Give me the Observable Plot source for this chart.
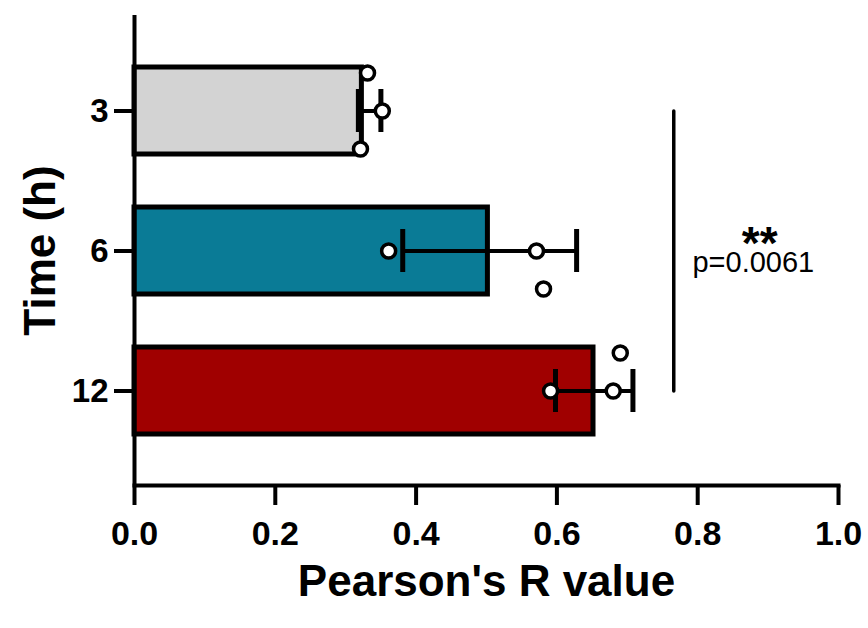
<!DOCTYPE html>
<html>
<head>
<meta charset="utf-8">
<script src="https://cdn.jsdelivr.net/npm/d3@7"></script>
<script src="https://cdn.jsdelivr.net/npm/@observablehq/plot@0.6"></script>
<style>
  body { margin: 0; background: #fff; }
  #chart svg { font-family: "Liberation Sans", Arial, sans-serif; }
</style>
</head>
<body>
<div id="chart"></div>
<script>
// Categories (time in hours)
const times = ["3", "6", "12"];
// Bar heights (mean Pearson's R)
const barMeans = [0.323, 0.502, 0.652];
// Error bar ends (mean ± SD)
const errLow = [0.318, 0.381, 0.598];
const errHigh = [0.350, 0.628, 0.708];
// Bar fill colours
const barColors = ["#d3d3d3", "#0a7b96", "#a00000"];
// Individual replicate points
const pointTime = ["3", "3", "3", "6", "6", "6", "12", "12", "12"];
const pointValue = [0.331, 0.352, 0.321, 0.361, 0.571, 0.581, 0.690, 0.680, 0.591];
const pointRow = [-1, 0, 1, 0, 0, 1, -1, 0, 0]; // swarm row within the band
// X tick values
const xTicks = [0, 0.2, 0.4, 0.6, 0.8, 1.0];
// Significance annotation
const sigX = 0.766;
const sigFrom = "3", sigTo = "12";
const sigStars = "**";
const sigP = "p=0.0061";

const bars = times.map((t, i) => ({time: t, value: barMeans[i], lo: errLow[i], hi: errHigh[i], color: barColors[i]}));
const points = pointTime.map((t, i) => ({time: t, value: pointValue[i], row: pointRow[i]}));
const sigLine = [{x: sigX, y: sigFrom}, {x: sigX, y: sigTo}];
const starLabel = [{x: 0.888, y: "6", label: sigStars}];
const pLabel = [{x: 0.879, y: "6", label: sigP}];

const rowDy = 38;
const dotStyle = {x: "value", y: "time", r: 7, fill: "white", stroke: "black", strokeWidth: 3.5};

const chart = Plot.plot({
  width: 868,
  height: 628,
  marginLeft: 134,
  marginRight: 30,
  marginTop: 15,
  marginBottom: 143,
  x: {domain: [0, 1]},
  y: {domain: times, paddingInner: 0.38, paddingOuter: 0.36},
  color: {type: "identity"},
  marks: [
    Plot.barX(bars, {x: "value", y: "time", fill: "color", stroke: "black", strokeWidth: 5}),
    Plot.ruleY(bars, {x1: "lo", x2: "hi", y: "time", stroke: "black", strokeWidth: 4}),
    Plot.tickX(bars, {x: "lo", y: "time", stroke: "black", strokeWidth: 5, insetTop: 22, insetBottom: 22}),
    Plot.tickX(bars, {x: "hi", y: "time", stroke: "black", strokeWidth: 5, insetTop: 22, insetBottom: 22}),
    Plot.dot(points.filter(d => d.row === -1), {...dotStyle, dy: -rowDy}),
    Plot.dot(points.filter(d => d.row === 0), {...dotStyle}),
    Plot.dot(points.filter(d => d.row === 1), {...dotStyle, dy: rowDy}),
    Plot.line(sigLine, {x: "x", y: "y", stroke: "black", strokeWidth: 3.5}),
    Plot.text(starLabel, {x: "x", y: "y", text: "label", dy: -7, fontSize: 46, fontWeight: "bold", fill: "black", lineAnchor: "middle", textAnchor: "middle"}),
    Plot.text(pLabel, {x: "x", y: "y", text: "label", dy: 12, fontSize: 29, fill: "black", lineAnchor: "middle", textAnchor: "middle"}),
    Plot.ruleX([0], {stroke: "black", strokeWidth: 4}),
    Plot.frame({anchor: "bottom", stroke: "black", strokeWidth: 4}),
    Plot.axisX({ticks: xTicks, tickFormat: d3.format(".1f"), tickSize: 20, tickPadding: 15, strokeWidth: 4, fontSize: 34, fontWeight: "bold", fill: "black", label: null}),
    Plot.axisY({tickSize: 20, tickPadding: 6, strokeWidth: 4, fontSize: 33, fontWeight: "bold", fill: "black", label: null}),
    Plot.text(["Pearson's R value"], {frameAnchor: "bottom", text: d => d, dy: 96, lineAnchor: "middle", textAnchor: "middle", fontSize: 44, fontWeight: "bold", fill: "black"}),
    Plot.text(["Time (h)"], {frameAnchor: "left", text: d => d, dx: -94, rotate: -90, lineAnchor: "middle", textAnchor: "middle", fontSize: 44, fontWeight: "bold", fill: "black"})
  ]
});
document.getElementById("chart").appendChild(chart);
</script>
</body>
</html>
